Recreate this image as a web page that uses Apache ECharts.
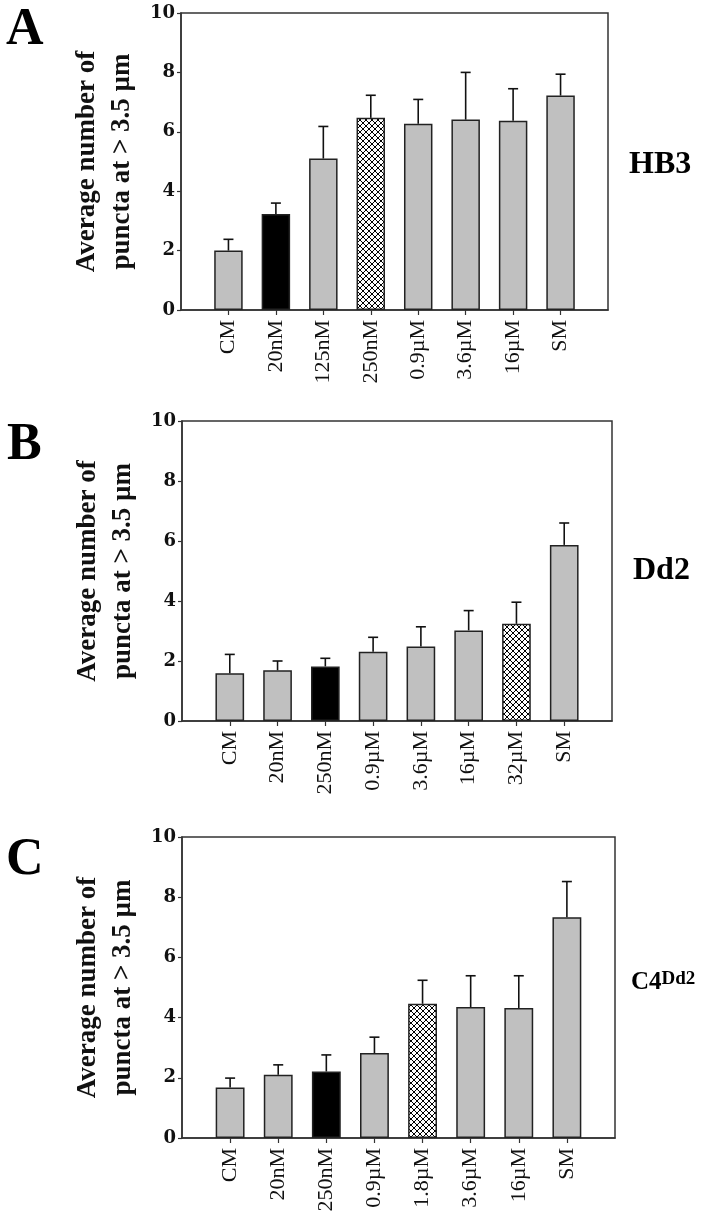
<!DOCTYPE html>
<html><head><meta charset="utf-8">
<script src="https://cdn.jsdelivr.net/npm/echarts@6/dist/echarts.min.js"></script>
<style>html,body{margin:0;padding:0;background:#fff}#c{width:716px;height:1224px}</style>
</head><body><div id="c"></div>
<script>
// ---- data ----
const yTicks = [0, 2, 4, 6, 8, 10];
const yTitle = 'Average number of\npuncta at > 3.5 µm';

const A_label = 'A';
const A_strain = 'HB3';
const A_categories = ['CM', '20nM', '125nM', '250nM', '0.9µM', '3.6µM', '16µM', 'SM'];
const A_means = [2.00, 3.23, 5.10, 6.47, 6.27, 6.41, 6.37, 7.22];
const A_errors = [0.38, 0.37, 1.08, 0.76, 0.82, 1.59, 1.08, 0.72];
const A_blackBar = '20nM';
const A_hatchBar = '250nM';

const B_label = 'B';
const B_strain = 'Dd2';
const B_categories = ['CM', '20nM', '250nM', '0.9µM', '3.6µM', '16µM', '32µM', 'SM'];
const B_means = [1.59, 1.69, 1.82, 2.31, 2.48, 3.02, 3.24, 5.87];
const B_errors = [0.63, 0.31, 0.27, 0.48, 0.66, 0.66, 0.72, 0.73];
const B_blackBar = '250nM';
const B_hatchBar = '32µM';

const C_label = 'C';
const C_strain = ['C4', 'Dd2'];
const C_categories = ['CM', '20nM', '250nM', '0.9µM', '1.8µM', '3.6µM', '16µM', 'SM'];
const C_means = [1.68, 2.10, 2.21, 2.82, 4.46, 4.35, 4.32, 7.33];
const C_errors = [0.31, 0.33, 0.55, 0.53, 0.78, 1.04, 1.07, 1.19];
const C_blackBar = '250nM';
const C_hatchBar = '1.8µM';

// ---- styling / layout ----
const GRAY = '#c0c0c0', EDGE = '#222', FRAME = '#333';
const serif = '"Liberation Serif", "Times New Roman", serif';

function makeHatch() {
  const s = 6;
  const c = document.createElement('canvas');
  c.width = s; c.height = s;
  const g = c.getContext('2d');
  g.fillStyle = '#fff'; g.fillRect(0, 0, s, s);
  g.strokeStyle = '#000'; g.lineWidth = 1;
  g.beginPath();
  g.moveTo(-1, -1); g.lineTo(s + 1, s + 1);
  g.moveTo(s + 1, -1); g.lineTo(-1, s + 1);
  g.stroke();
  return c;
}
const hatch = makeHatch();

const panels = [
  { cats: A_categories, means: A_means, errs: A_errors, black: A_blackBar, hatchBar: A_hatchBar,
    grid: { left: 181, top: 13, width: 427, height: 297 } },
  { cats: B_categories, means: B_means, errs: B_errors, black: B_blackBar, hatchBar: B_hatchBar,
    grid: { left: 182, top: 421, width: 430, height: 300 } },
  { cats: C_categories, means: C_means, errs: C_errors, black: C_blackBar, hatchBar: C_hatchBar,
    grid: { left: 182, top: 837, width: 433, height: 301 } }
];

const grid = [], xAxis = [], yAxis = [], series = [];
panels.forEach((p, i) => {
  grid.push(Object.assign({ show: true, borderColor: FRAME, borderWidth: 1.5, backgroundColor: 'transparent' }, p.grid));
  const n = p.cats.length;
  xAxis.push({
    type: 'category', gridIndex: i, boundaryGap: false,
    data: [''].concat(p.cats, ['']),
    axisLine: { show: true, lineStyle: { color: FRAME, width: 1.5 } },
    axisTick: { show: true, length: 5, lineStyle: { color: FRAME, width: 1.2 },
      interval: (idx) => idx > 0 && idx <= n },
    axisLabel: { interval: 0, rotate: 90, margin: 10, fontFamily: serif, fontSize: 22, color: '#111' },
    splitLine: { show: false }
  });
  yAxis.push({
    type: 'value', gridIndex: i, min: yTicks[0], max: yTicks[yTicks.length - 1],
    interval: yTicks[1] - yTicks[0],
    axisLine: { show: true, lineStyle: { color: FRAME, width: 1.5 } },
    axisTick: { show: true, length: 4, lineStyle: { color: FRAME, width: 1.2 } },
    axisLabel: { margin: 6, fontFamily: '"DejaVu Serif", serif', fontWeight: 'bold', fontSize: 18, color: '#111' },
    splitLine: { show: false },
    name: yTitle, nameLocation: 'middle', nameRotate: 90, nameGap: 40,
    nameTextStyle: { fontFamily: serif, fontWeight: 'bold', fontSize: 27, lineHeight: 35, color: '#111' }
  });
  const barData = [{ value: '-' }].concat(p.cats.map((c, k) => {
    let color = GRAY;
    if (c === p.black) color = '#000';
    else if (c === p.hatchBar) color = { image: hatch, repeat: 'repeat' };
    return { value: p.means[k], itemStyle: { color } };
  }), [{ value: '-' }]);
  series.push({
    type: 'bar', xAxisIndex: i, yAxisIndex: i, data: barData, barWidth: '60%',
    itemStyle: { borderColor: EDGE, borderWidth: 1.5 }, animation: false, z: 2
  });
  series.push({
    type: 'custom', xAxisIndex: i, yAxisIndex: i, z: 3, animation: false,
    data: p.cats.map((c, k) => [k + 1, p.means[k], p.means[k] + p.errs[k]]),
    renderItem: (params, api) => {
      const x = api.value(0);
      const p0 = api.coord([x, api.value(1)]);
      const p1 = api.coord([x, api.value(2)]);
      const st = { stroke: '#111', lineWidth: 1.6 };
      return { type: 'group', children: [
        { type: 'line', shape: { x1: p0[0], y1: p0[1], x2: p1[0], y2: p1[1] }, style: st },
        { type: 'line', shape: { x1: p1[0] - 5, y1: p1[1], x2: p1[0] + 5, y2: p1[1] }, style: st }
      ] };
    }
  });
});

const letterStyle = { fontFamily: serif, fontWeight: 'bold', fontSize: 52, lineHeight: 52, color: '#000' };
const strainStyle = { fontFamily: serif, fontWeight: 'bold', fontSize: 32, lineHeight: 32, color: '#000' };
const title = [
  { text: A_label, left: 6, top: 5, padding: 0, textStyle: letterStyle },
  { text: B_label, left: 7, top: 420, padding: 0, textStyle: letterStyle },
  { text: C_label, left: 6, top: 835, padding: 0, textStyle: letterStyle },
  { text: A_strain, left: 629, top: 149, padding: 0, textStyle: strainStyle },
  { text: B_strain, left: 633, top: 555, padding: 0, textStyle: strainStyle },
  { text: '{a|' + C_strain[0] + '}{b|' + C_strain[1] + '}', left: 631, top: 970, padding: 0,
    textStyle: { rich: {
      a: { fontFamily: serif, fontWeight: 'bold', fontSize: 25, lineHeight: 25, color: '#000' },
      b: { fontFamily: serif, fontSize: 19, lineHeight: 19, verticalAlign: 'top', color: '#000' }
    } } }
];

const chart = echarts.init(document.getElementById('c'), null, { renderer: 'canvas' });
chart.setOption({ animation: false, backgroundColor: '#fff', title, grid, xAxis, yAxis, series });
</script>
</body></html>
